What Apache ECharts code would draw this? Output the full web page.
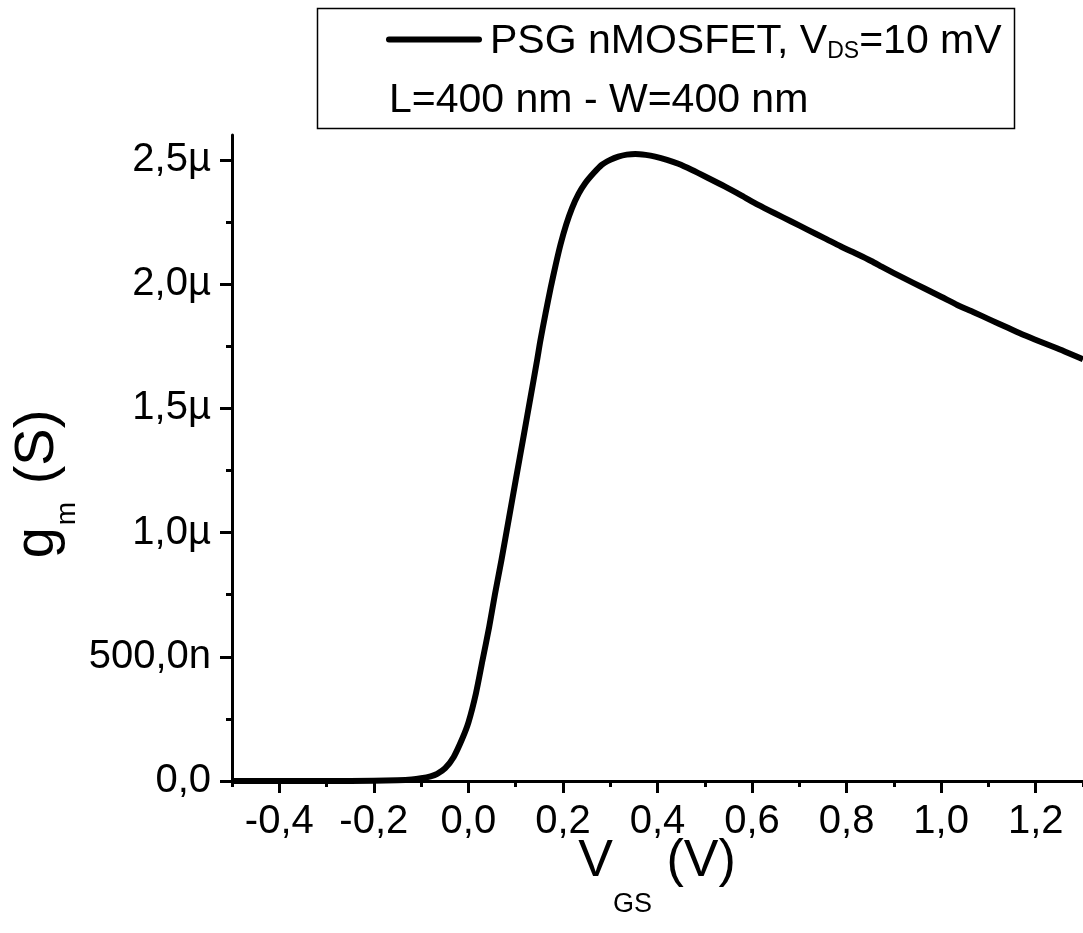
<!DOCTYPE html>
<html>
<head>
<meta charset="utf-8">
<title>PSG nMOSFET gm</title>
<script src="https://cdn.jsdelivr.net/npm/echarts@6/dist/echarts.min.js"></script>
<style>
  html, body { margin: 0; padding: 0; background: #fff; }
  #chart { width: 1083px; height: 933px; }
</style>
</head>
<body>
<div id="chart"></div>
<script>
// gate voltage (V) and transconductance (µS)
const vgs = [-0.5, -0.4, -0.3, -0.2, -0.15, -0.12, -0.1, -0.08, -0.066, -0.049, -0.031, -0.013,
  0.0, 0.016, 0.03, 0.044, 0.056, 0.07, 0.086, 0.1, 0.117, 0.131, 0.145, 0.152, 0.163, 0.174,
  0.185, 0.195, 0.207, 0.219, 0.233, 0.247, 0.265, 0.282, 0.3, 0.317, 0.335, 0.353, 0.375,
  0.395, 0.42, 0.444, 0.472, 0.507, 0.542, 0.578, 0.613, 0.648, 0.683, 0.718, 0.753, 0.788,
  0.823, 0.852, 0.88, 0.92, 0.964, 1.0, 1.034, 1.07, 1.104, 1.14, 1.175, 1.21, 1.245, 1.27, 1.3]
const gm = [0, 0, 0, 0.001, 0.003, 0.006, 0.011, 0.019, 0.029, 0.052, 0.097, 0.17,
  0.235, 0.353, 0.487, 0.62, 0.75, 0.89, 1.06, 1.21, 1.39, 1.54, 1.69, 1.77, 1.88, 1.985,
  2.08, 2.16, 2.24, 2.305, 2.363, 2.406, 2.447, 2.48, 2.50, 2.513, 2.521, 2.524, 2.52,
  2.513, 2.50, 2.484, 2.46, 2.427, 2.393, 2.356, 2.319, 2.285, 2.252, 2.218, 2.185, 2.151,
  2.12, 2.093, 2.064, 2.025, 1.983, 1.949, 1.916, 1.886, 1.856, 1.825, 1.795, 1.768, 1.742, 1.722, 1.697]

const xTickValues = [-0.4, -0.2, 0, 0.2, 0.4, 0.6, 0.8, 1.0, 1.2]
const xTickLabels = ['-0,4', '-0,2', '0,0', '0,2', '0,4', '0,6', '0,8', '1,0', '1,2']
const xMinorValues = [-0.5, -0.3, -0.1, 0.1, 0.3, 0.5, 0.7, 0.9, 1.1, 1.3]
const yTickValues = [0, 0.5, 1, 1.5, 2, 2.5]
const yTickLabels = ['0,0', '500,0n', '1,0µ', '1,5µ', '2,0µ', '2,5µ']
const yMinorValues = [0.25, 0.75, 1.25, 1.75, 2.25]

const font = 'Liberation Sans, Arial, sans-serif'
const black = '#000'

const labelFor = (values, labels) => v => {
  const i = values.findIndex(t => Math.abs(t - v) < 1e-9)
  return i < 0 ? '' : labels[i]
}

const majorAxis = {
  type: 'value',
  axisLine: { onZero: false, lineStyle: { color: black, width: 3 } },
  splitLine: { show: false }
}
const minorAxis = {
  type: 'value',
  axisLine: { show: false, onZero: false },
  axisLabel: { show: false },
  splitLine: { show: false }
}

const chart = echarts.init(document.getElementById('chart'))
chart.setOption({
  animation: false,
  backgroundColor: '#fff',
  grid: { left: 232, top: 135, width: 854, height: 646 },
  xAxis: [{
    ...majorAxis,
    position: 'bottom', min: -0.5, max: 1.3, interval: 0.1,
    axisTick: { customValues: xTickValues, length: 12, lineStyle: { color: black, width: 3 } },
    axisLabel: {
      customValues: xTickValues, formatter: labelFor(xTickValues, xTickLabels),
      fontSize: 40, fontFamily: font, color: black, margin: 21
    }
  }, {
    ...minorAxis,
    position: 'bottom', min: -0.5, max: 1.3, interval: 0.1,
    axisTick: { customValues: xMinorValues, length: 6, lineStyle: { color: black, width: 3 } }
  }],
  yAxis: [{
    ...majorAxis,
    position: 'left', min: 0, max: 2.6, interval: 0.5,
    axisTick: { customValues: yTickValues, length: 12, lineStyle: { color: black, width: 3 } },
    axisLabel: {
      customValues: yTickValues, formatter: labelFor(yTickValues, yTickLabels),
      fontSize: 40, fontFamily: font, color: black, margin: 21
    }
  }, {
    ...minorAxis,
    position: 'left', min: 0, max: 2.6, interval: 0.5,
    axisTick: { customValues: yMinorValues, length: 6, lineStyle: { color: black, width: 3 } }
  }],
  series: [{
    type: 'line',
    xAxisIndex: 0,
    yAxisIndex: 0,
    data: vgs.map((v, i) => [v, gm[i]]),
    showSymbol: false,
    smooth: 0.25,
    lineStyle: { color: black, width: 6, join: 'round' }
  }],
  graphic: [
    {
      type: 'rect',
      shape: { x: 317.5, y: 8.5, width: 697, height: 120 },
      style: { fill: '#fff', stroke: black, lineWidth: 1.5 }
    },
    {
      type: 'line',
      shape: { x1: 389, y1: 39.5, x2: 479, y2: 39.5 },
      style: { stroke: black, lineWidth: 6, lineCap: 'round' }
    },
    {
      type: 'text', x: 490, y: 42,
      style: {
        text: 'PSG nMOSFET, V{sub|DS}=10 mV',
        font: '41px ' + font, fill: black, align: 'left', verticalAlign: 'middle',
        rich: { sub: { fontSize: 23, fontFamily: font, fill: black, padding: [20, 0, 0, 0] } }
      }
    },
    {
      type: 'text', x: 389, y: 101,
      style: {
        text: 'L=400 nm - W=400 nm',
        font: '41px ' + font, fill: black, align: 'left', verticalAlign: 'middle'
      }
    },
    {
      type: 'text', x: 657, y: 862,
      style: {
        text: 'V{sub|GS} (V)',
        font: '52px ' + font, fill: black, align: 'center', verticalAlign: 'middle',
        rich: { sub: { fontSize: 27, fontFamily: font, fill: black, padding: [86, 0, 0, 0] } }
      }
    },
    {
      type: 'text', x: 38, y: 484, rotation: Math.PI / 2,
      style: {
        text: 'g{sub|m} (S)',
        font: '56px ' + font, fill: black, align: 'center', verticalAlign: 'middle',
        rich: { sub: { fontSize: 28, fontFamily: font, fill: black, padding: [58, 2, 0, 2] } }
      }
    }
  ]
})
</script>
</body>
</html>
